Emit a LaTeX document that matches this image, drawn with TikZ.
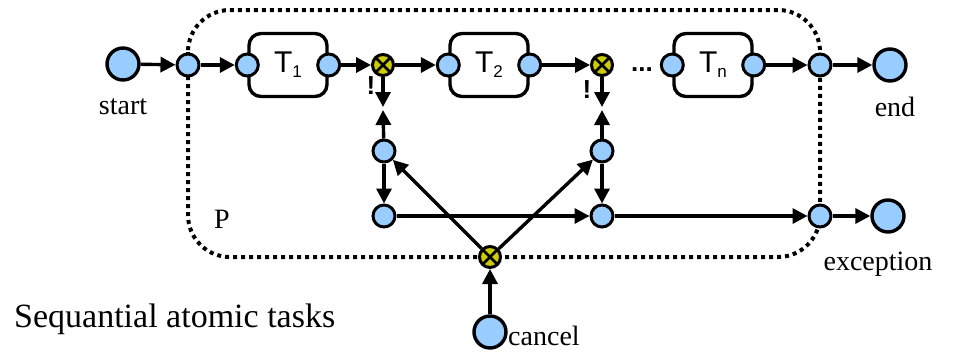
\documentclass[tikz,border=0pt]{standalone}
\usepackage{fontspec}
\setmainfont{Liberation Serif}
\newfontfamily\tasksf{Liberation Sans}
\usetikzlibrary{arrows.meta}
\definecolor{portblue}{RGB}{153,204,255}
\definecolor{xoryellow}{RGB}{204,204,0}
\newcommand{\tasksub}[1]{\raisebox{-5pt}{\fontsize{17}{17}\selectfont #1}}
\tikzset{
    port/.style={circle, draw, line width=3pt, fill=portblue,
                 minimum size=22pt, inner sep=0pt},
    bigport/.style={port, line width=3.4pt, minimum size=32pt},
    xorgate/.style={circle, draw, line width=3pt, fill=xoryellow,
                    minimum size=21pt, inner sep=0pt,
                    path picture={
                      \draw[line width=2.6pt]
                        (path picture bounding box.north west) --
                        (path picture bounding box.south east)
                        (path picture bounding box.north east) --
                        (path picture bounding box.south west);}},
    taskbox/.style={draw, line width=3.4pt, rounded corners=12pt,
                    minimum width=78pt, minimum height=63pt,
                    font=\tasksf\fontsize{30}{32}\selectfont},
    flow/.style={-{Triangle[length=15pt,width=15pt]}, line width=3.4pt},
    boundary/.style={line width=4pt, dash pattern=on 4pt off 4pt,
                     rounded corners=42pt},
    tag/.style={font=\fontsize{28}{30}\selectfont, inner sep=0pt},
    bang/.style={font=\tasksf\bfseries\fontsize{26}{28}\selectfont, inner sep=0pt},
}

\begin{document}
\begin{tikzpicture}[x=1pt, y=-1pt]
    \useasboundingbox (0,0) rectangle (953,351);

    % process boundary
    \draw[boundary] (188,10) rectangle (820,257);

    % sequence of tasks
    \node[bigport] (start) at (123,64) {};
    \node[port] (pin) at (188,65) {};
    \node[taskbox] (t1) at (288,65) {T\tasksub{1}};
    \node[port] (t1in) at (t1.west) {};
    \node[port] (t1out) at (t1.east) {};
    \node[xorgate] (x1) at (383,65) {};
    \node[taskbox] (t2) at (489,65) {T\tasksub{2}};
    \node[port] (t2in) at (t2.west) {};
    \node[port] (t2out) at (t2.east) {};
    \node[xorgate] (x2) at (602,65) {};
    \node[font=\tasksf\bfseries\fontsize{26}{28}\selectfont, inner sep=0pt,
          anchor=base] (dots) at (642,71) {...};
    \node[taskbox] (tn) at (713,65) {T\tasksub{n}};
    \node[port] (tnin) at (tn.west) {};
    \node[port] (tnout) at (tn.east) {};
    \node[port] (pout) at (820,65) {};
    \node[bigport] (end) at (890,65) {};

    % exception handling
    \node[bang] (b1) at (371,86) {!};
    \node[bang] (b2) at (587,90) {!};
    \coordinate (m1a) at (383,107);
    \coordinate (m1b) at (383,110);
    \coordinate (m2a) at (602,107);
    \coordinate (m2b) at (602,110);
    \node[port] (c1) at (384,151) {};
    \node[port] (c2) at (384,216) {};
    \node[port] (c3) at (602,151) {};
    \node[port] (c4) at (602,216) {};
    \node[port] (pexc) at (820,216) {};
    \node[bigport] (exc) at (888,216) {};
    \node[xorgate] (xc) at (490,257) {};
    \node[bigport] (cancel) at (490,332) {};

    % labels
    \node[tag] (lstart) at (123,107) {start};
    \node[tag] (lend) at (895,107) {end};
    \node[tag] (lexc) at (878,264) {exception};
    \node[tag, anchor=west] (lcancel) at (508,336) {cancel};
    \node[tag] (lp) at (222,219) {P};
    \node[font=\fontsize{34}{36}\selectfont, anchor=west, inner sep=0pt]
        (title) at (14,319) {Sequantial atomic tasks};

    \draw[flow] (start) -- (pin);
    \draw[flow] (pin) -- (t1in);
    \draw[flow] (t1out) -- (x1);
    \draw[flow] (x1) -- (t2in);
    \draw[flow] (t2out) -- (x2);
    \draw[flow] (tnout) -- (pout);
    \draw[flow] (pout) -- (end);
    \draw[flow] (x1) -- (m1a);
    \draw[flow] (c1) -- (m1b);
    \draw[flow] (x2) -- (m2a);
    \draw[flow] (c3) -- (m2b);
    \draw[flow] (c1) -- (c2);
    \draw[flow] (c3) -- (c4);
    \draw[flow] (c2) -- (c4);
    \draw[flow] (c4) -- (pexc);
    \draw[flow] (pexc) -- (exc);
    \draw[flow] (cancel) -- (xc);
    \draw[flow] (xc) -- (c1);
    \draw[flow] (xc) -- (c3);

\end{tikzpicture}
\end{document}
